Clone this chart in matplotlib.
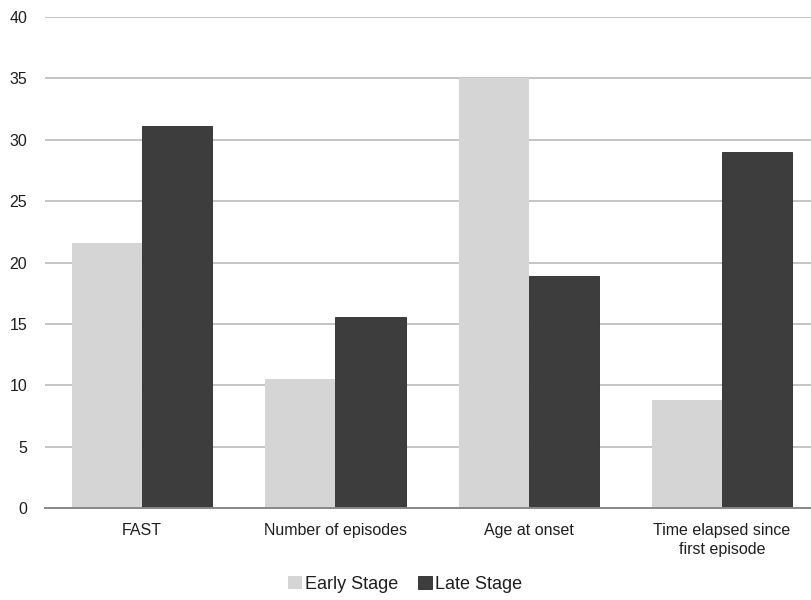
import numpy as np
import matplotlib.pyplot as plt

plt.rcParams['font.family'] = ['Liberation Sans', 'DejaVu Sans']

categories = ['FAST', 'Number of episodes', 'Age at onset', 'Time elapsed since\nfirst episode']
early_stage = [21.6, 10.5, 35.0, 8.8]
late_stage = [31.1, 15.6, 18.9, 29.0]

fig = plt.figure(figsize=(8.11, 6.0), dpi=100)
ax = fig.add_axes([0.056, 0.153, 0.944, 0.819])

x = np.arange(len(categories))
w = 0.363
ax.bar(x - w / 2, early_stage, w, color='#d5d5d5', label='Early Stage', zorder=3)
ax.bar(x + w / 2, late_stage, w, color='#3d3d3d', edgecolor='#2a2a2a', linewidth=0.6,
       label='Late Stage', zorder=3)

ax.set_ylim(0, 40)
ax.set_yticks(range(0, 41, 5))
ax.set_xlim(-0.5, 3.46)
ax.set_xticks(x)
ax.set_xticklabels(categories, fontsize=11.5, color='#1e1e1e', linespacing=1.3)
ax.tick_params(axis='y', length=0, pad=13, labelsize=11.5, labelcolor='#1e1e1e')
ax.tick_params(axis='x', length=0, pad=11)

ax.grid(axis='y', color='#c4c4c4', linewidth=1.4, zorder=0)
for side in ['top', 'right', 'left']:
    ax.spines[side].set_visible(False)
ax.spines['bottom'].set_color('#888888')
ax.spines['bottom'].set_linewidth(1.4)
ax.spines['bottom'].set_zorder(4)

ax.legend(loc='upper center', bbox_to_anchor=(0.47, -0.105), ncol=2, frameon=False,
          fontsize=13, handlelength=0.75, handleheight=0.75, handletextpad=0.2,
          columnspacing=1.1, labelcolor='#1e1e1e')

fig.savefig('out.png', dpi=100)
